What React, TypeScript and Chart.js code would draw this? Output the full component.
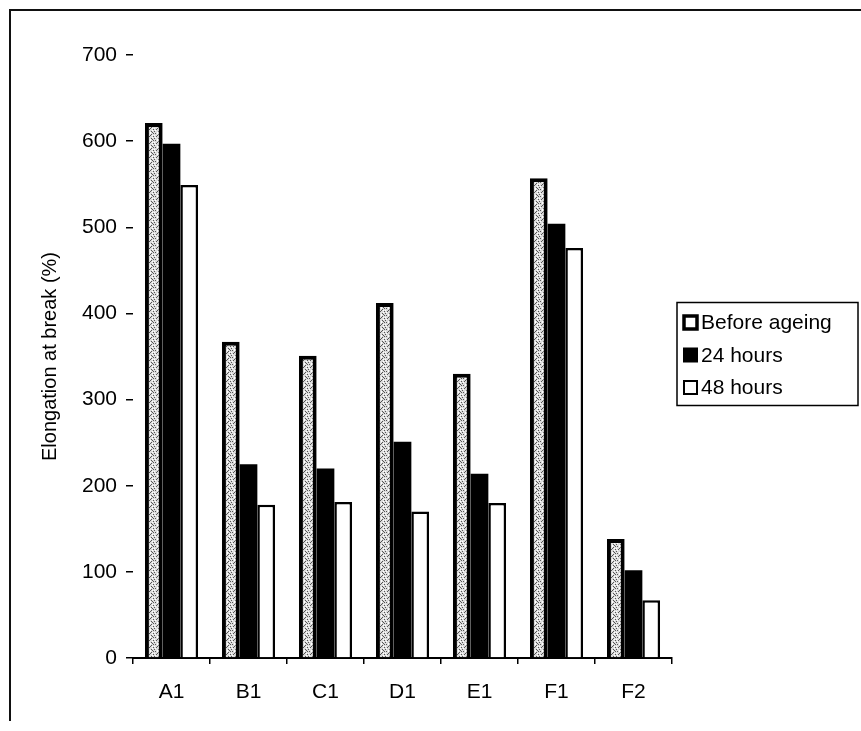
import React, { useEffect, useRef } from "react";
import { Chart, registerables } from "chart.js";

Chart.register(...registerables);

// Samples and measured elongation at break (%)
const categories = ["A1", "B1", "C1", "D1", "E1", "F1", "F2"];
const beforeAgeing = [621, 367, 351, 412, 330, 557, 138];
const after24Hours = [597, 225, 220, 251, 214, 504, 102];
const after48Hours = [549, 178, 181, 170, 180, 476, 67];
const seriesNames = ["Before ageing", "24 hours", "48 hours"];
const yAxisTitle = "Elongation at break (%)";
const yMin = 0;
const yMax = 700;
const yStep = 100;

const FONT = "'Liberation Sans', Arial, sans-serif";
const FONT_SIZE = 21;

// Speckled grey fill used for the "before ageing" bars
function makeSpeckle(): CanvasPattern | string {
  const c = document.createElement("canvas");
  c.width = 7;
  c.height = 7;
  const g = c.getContext("2d");
  if (!g) return "#ccc";
  g.fillStyle = "#dcdcdc";
  g.fillRect(0, 0, 7, 7);
  const dark: [number, number][] = [[1, 0], [4, 1], [6, 3], [2, 3], [0, 5], [4, 5], [5, 6], [3, 2], [6, 0]];
  g.fillStyle = "#555";
  dark.forEach(([x, y]) => g.fillRect(x, y, 1, 1));
  const light: [number, number][] = [[3, 0], [0, 2], [5, 2], [3, 6], [1, 4], [5, 4]];
  g.fillStyle = "#ffffff";
  light.forEach(([x, y]) => g.fillRect(x, y, 1, 1));
  const p = g.createPattern(c, "repeat");
  return p || "#ccc";
}

// Page frame (top and left rules) and white backdrop
const framePlugin = {
  id: "frame",
  beforeDraw(chart: any) {
    const { ctx, width, height } = chart;
    ctx.save();
    ctx.fillStyle = "#fff";
    ctx.fillRect(0, 0, width, height);
    ctx.strokeStyle = "#111";
    ctx.lineWidth = 2;
    ctx.beginPath();
    ctx.moveTo(10, height - 10);
    ctx.lineTo(10, 10);
    ctx.lineTo(width, 10);
    ctx.stroke();
    ctx.restore();
  },
};

// Boxed legend to the right of the plot
const boxedLegend = {
  id: "boxedLegend",
  afterDraw(chart: any) {
    const { ctx, chartArea } = chart;
    const mid = (chartArea.top + chartArea.bottom) / 2;
    const left = chartArea.right + 5;
    const right = left + 181;
    const top = mid - 54;
    const rowGap = 32.5;
    ctx.save();
    ctx.strokeStyle = "#000";
    ctx.lineWidth = 1.5;
    ctx.strokeRect(left, top, right - left, 103);
    ctx.font = `${FONT_SIZE}px ${FONT}`;
    ctx.textBaseline = "middle";
    ctx.textAlign = "left";
    chart.data.datasets.forEach((ds: any, i: number) => {
      const cy = top + 20 + i * rowGap;
      const sx = left + 7;
      const s = 13;
      ctx.fillStyle = i === 0 ? "#fff" : ds.backgroundColor;
      ctx.fillRect(sx, cy - s / 2, s, s);
      ctx.strokeStyle = "#000";
      ctx.lineWidth = i === 0 ? 3.5 : 2;
      ctx.strokeRect(sx, cy - s / 2, s, s);
      ctx.fillStyle = "#000";
      ctx.fillText(ds.label, sx + s + 4, cy + 1);
    });
    ctx.restore();
  },
};

export default function App() {
  const canvasRef = useRef<HTMLCanvasElement | null>(null);

  useEffect(() => {
    if (!canvasRef.current) return;
    const speckle = makeSpeckle();
    const chart = new Chart(canvasRef.current, {
      type: "bar",
      data: {
        labels: categories,
        datasets: [
          {
            label: seriesNames[0],
            data: beforeAgeing,
            backgroundColor: speckle as any,
            borderColor: "#000",
            borderWidth: 4,
          },
          {
            label: seriesNames[1],
            data: after24Hours,
            backgroundColor: "#000",
            borderColor: "#000",
            borderWidth: 0,
          },
          {
            label: seriesNames[2],
            data: after48Hours,
            backgroundColor: "#fff",
            borderColor: "#000",
            borderWidth: 2.5,
          },
        ],
      },
      options: {
        animation: false,
        responsive: false,
        maintainAspectRatio: false,
        color: "#000",
        layout: { padding: { left: 0, top: 55, right: 189, bottom: 0 } },
        datasets: {
          bar: { categoryPercentage: 0.69, barPercentage: 1.0 },
        },
        plugins: {
          legend: { display: false },
          tooltip: { enabled: false },
        },
        scales: {
          x: {
            grid: {
              display: true,
              drawOnChartArea: false,
              drawTicks: true,
              tickLength: 6,
              color: "#000",
              lineWidth: 1.5,
            },
            border: { display: true, color: "#000", width: 2 },
            ticks: {
              color: "#000",
              padding: 16,
              font: { family: FONT, size: FONT_SIZE },
            },
            afterFit(scale: any) {
              scale.height = 73;
            },
          },
          y: {
            min: yMin,
            max: yMax,
            ticks: {
              stepSize: yStep,
              color: "#000",
              padding: 9,
              font: { family: FONT, size: FONT_SIZE },
            },
            grid: {
              display: true,
              drawOnChartArea: false,
              drawTicks: true,
              tickLength: 7,
              color: "#000",
              lineWidth: 1.5,
            },
            border: { display: false },
            title: {
              display: true,
              text: yAxisTitle,
              color: "#000",
              font: { family: FONT, size: 20 },
              padding: { top: 38, bottom: 0 },
            },
            afterFit(scale: any) {
              scale.width = 133;
            },
          },
        },
      },
      plugins: [framePlugin, boxedLegend],
    });
    return () => chart.destroy();
  }, []);

  return (
    <div style={{ position: "absolute", left: 0, top: 0, width: 861, height: 731, background: "#fff" }}>
      <canvas ref={canvasRef} width={861} height={731} style={{ display: "block", width: 861, height: 731 }} />
    </div>
  );
}
